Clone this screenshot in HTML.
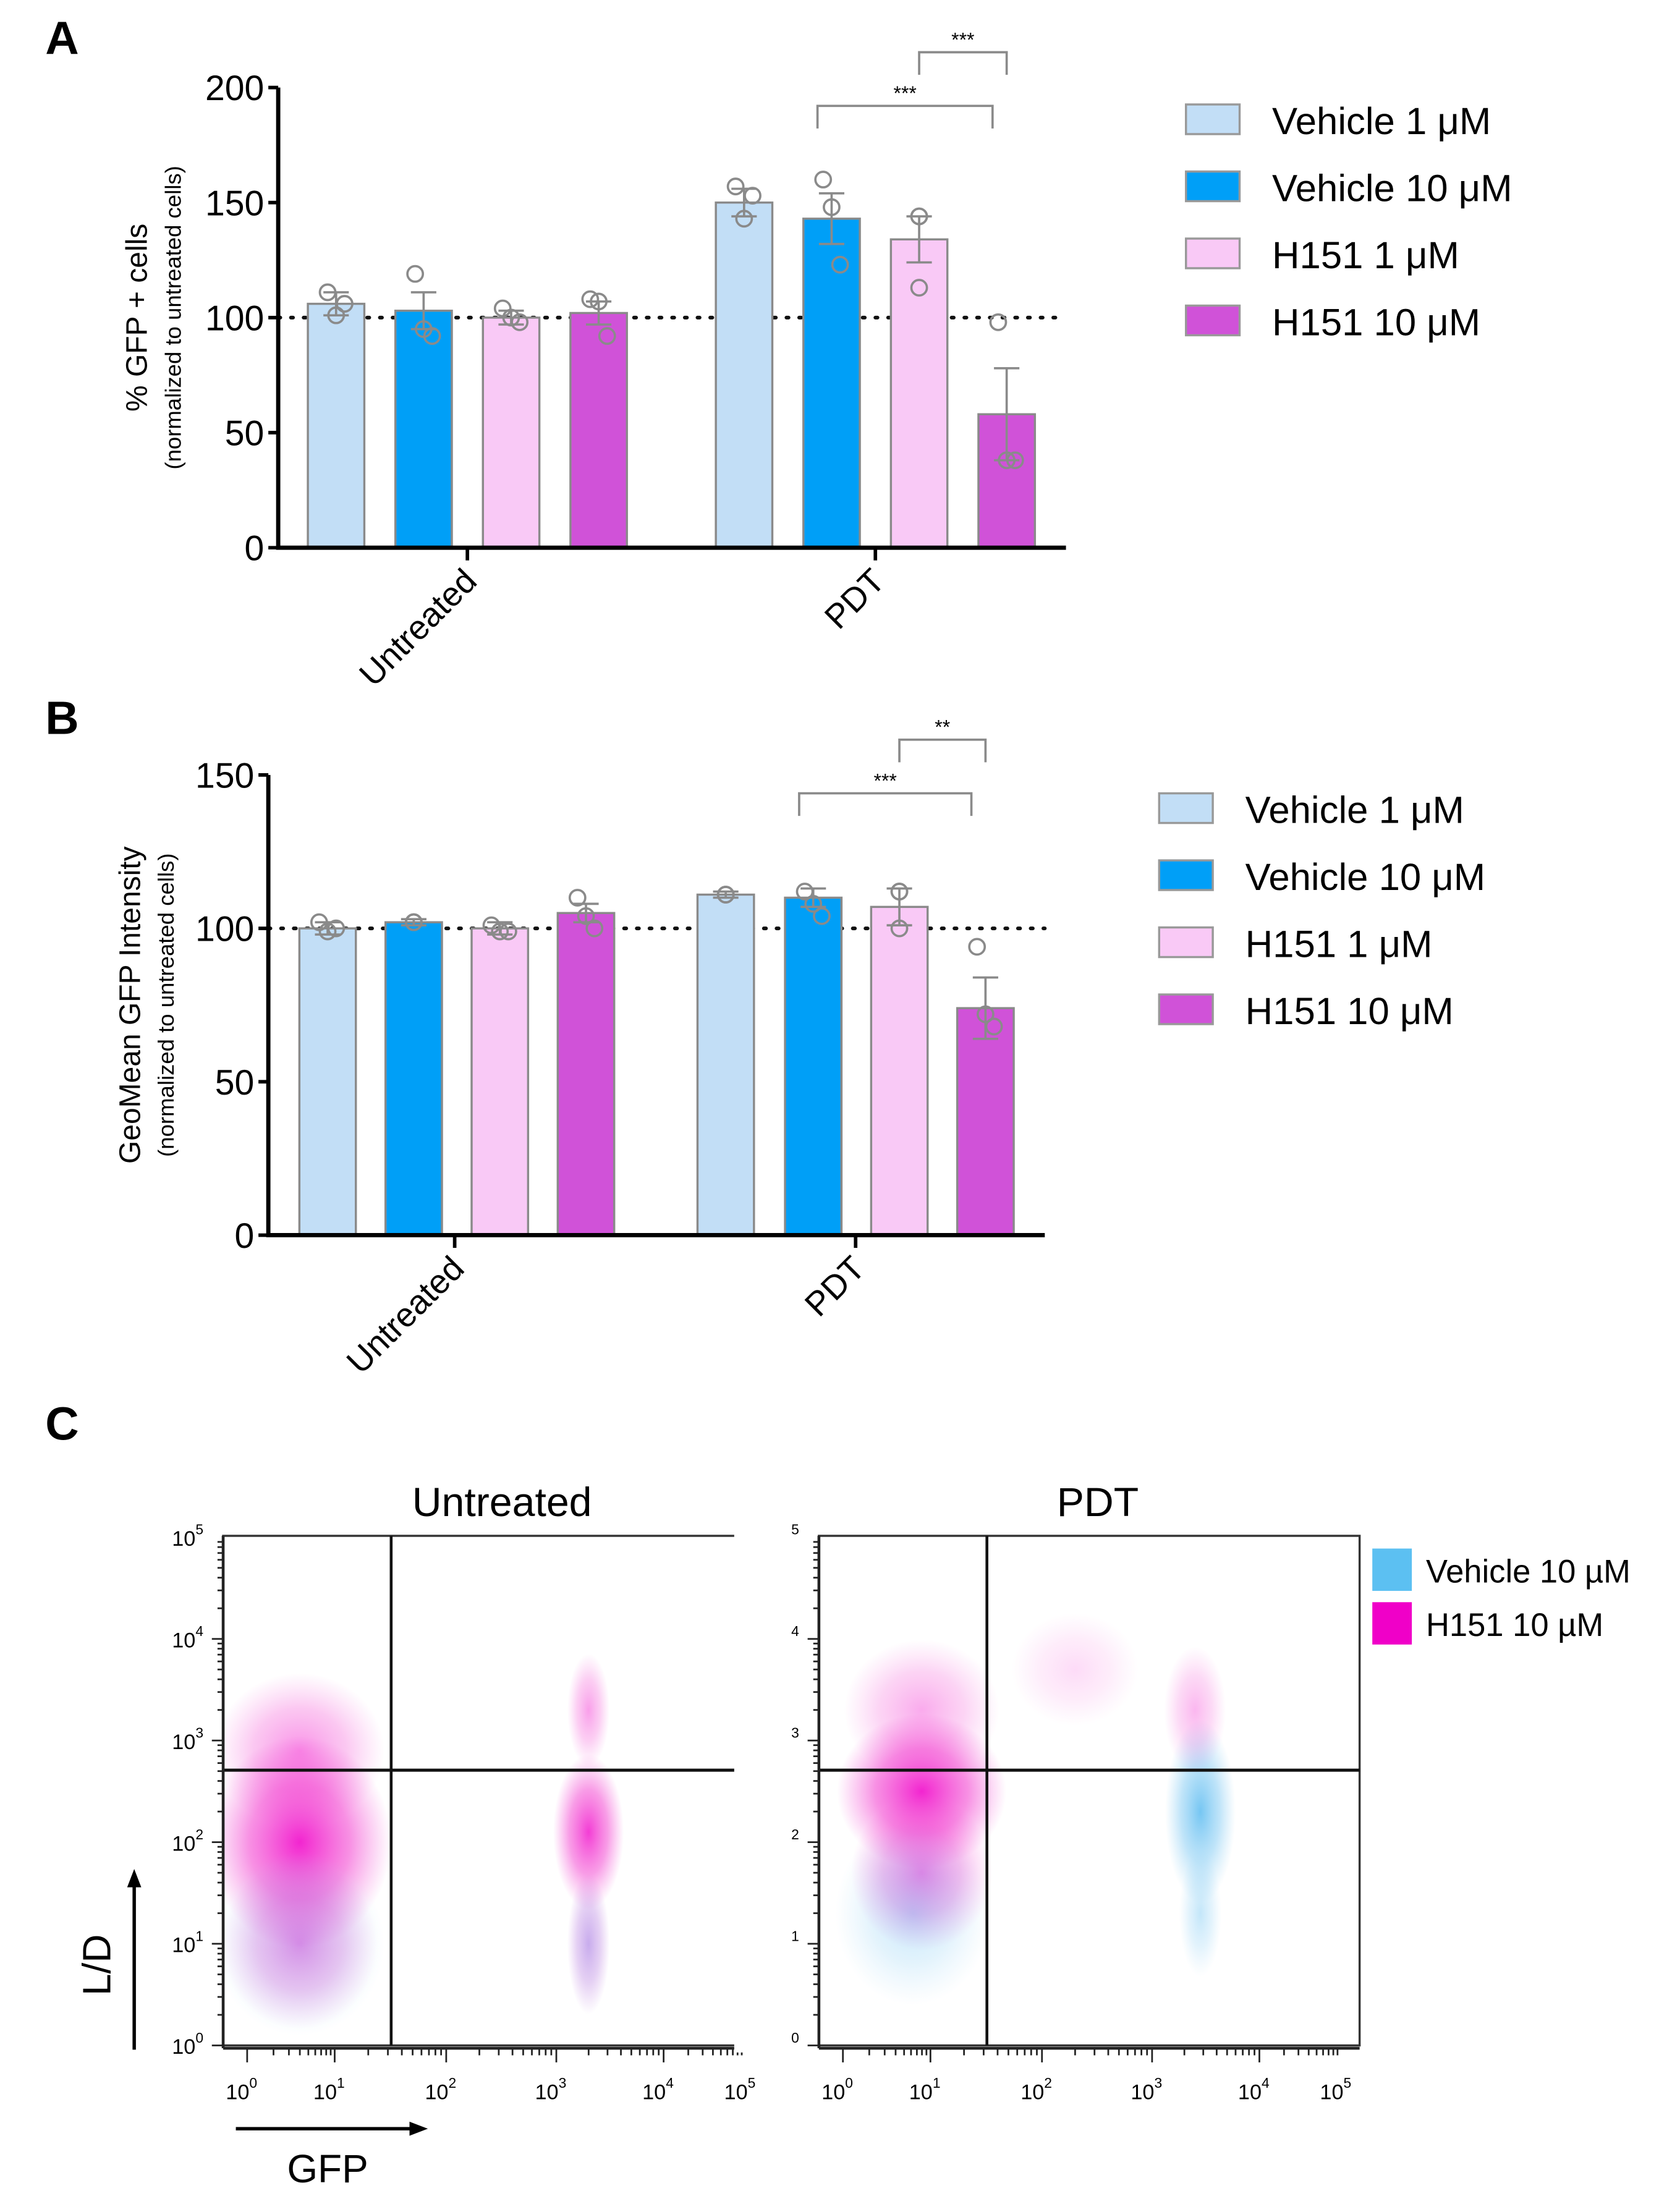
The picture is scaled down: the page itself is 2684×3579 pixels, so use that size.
<!DOCTYPE html>
<html><head><meta charset="utf-8">
<style>
html,body{margin:0;padding:0;background:#fff;}
svg{display:block;font-family:"Liberation Sans",Arial,sans-serif;}
</style></head>
<body>
<svg id="fig" width="2684" height="3579" viewBox="0 0 1175 1567" xmlns="http://www.w3.org/2000/svg">
<defs>
<radialGradient id="gM"><stop offset="0" stop-color="#f000c8" stop-opacity="0.95"/><stop offset="0.55" stop-color="#f020c8" stop-opacity="0.55"/><stop offset="1" stop-color="#f040d0" stop-opacity="0"/></radialGradient>
<radialGradient id="gB"><stop offset="0" stop-color="#40b0ee" stop-opacity="0.9"/><stop offset="0.55" stop-color="#60bcf0" stop-opacity="0.5"/><stop offset="1" stop-color="#80c8f0" stop-opacity="0"/></radialGradient>
</defs>
<g id="gA"></g>
<g id="gBp"></g>
<g id="gC"></g>
</svg>
<script>
const NS="http://www.w3.org/2000/svg";
const groups=["Untreated","PDT"];
const series=["Vehicle 1 \u03bcM","Vehicle 10 \u03bcM","H151 1 \u03bcM","H151 10 \u03bcM"];
const colors=["#c2def6","#009ff7","#f9c9f6","#d052d8"];
// Panel A data
const aMeans=[106,103,100,102,150,143,134,58];
const aErr=[5,8,3,5,6,11,10,20];
const aPoints=[[111,101,106],[119,95,92],[104,100,98],[108,107,92],[157,143,153],[160,148,123],[144,144,113],[98,38,38]];
const aTicks=[0,50,100,150,200];
// Panel B data
const bMeans=[100,102,100,105,111,110,107,74];
const bErr=[2,1,2,3,1,3,6,10];
const bPoints=[[102,99,100],[102,102,102],[101,99,99],[110,104,100],[111,111,111],[112,108,104],[112,112,100],[94,72,68]];
const bTicks=[0,50,100,150];
// Panel C flow clusters: [gfpLog, ldLog, rxPx, ryPx, color, opacity]
const cLeft=[[0.6,2.0,65,75,"M",0.9],[0.6,2.9,60,55,"M",0.45],[0.6,1.0,60,65,"B",0.35],[0.6,1.0,55,60,"M",0.4],[3.3,2.1,25,55,"M",0.8],[3.3,3.3,15,40,"M",0.4],[3.3,1.0,15,50,"M",0.35],[3.3,1.0,15,50,"B",0.3]];
const cRight=[[0.9,2.5,60,55,"M",0.9],[0.9,1.7,50,55,"M",0.55],[0.8,1.3,55,65,"B",0.35],[0.9,3.3,55,50,"M",0.35],[3.45,2.3,25,65,"B",0.8],[3.4,3.3,22,45,"M",0.3],[3.45,1.3,15,45,"B",0.35],[2.3,3.7,45,40,"M",0.15]];
const cTickLabels=["0","1","2","3","4","5"];

function el(tag,attrs,parent,text){const e=document.createElementNS(NS,tag);for(const k in attrs)e.setAttribute(k,attrs[k]);if(text!==undefined)e.textContent=text;parent.appendChild(e);return e;}

function barPanel(g,cfg){
  const y=v=>cfg.y0-(v/cfg.ymax)*(cfg.y0-cfg.ytop);
  const x=i=>cfg.centers[i];
  let l=el("line",{x1:cfg.xa,x2:cfg.xe,y1:y(100),y2:y(100),stroke:"#111","stroke-width":2.6,"stroke-dasharray":"1.5 7.5","stroke-linecap":"round"},g);
  
  cfg.means.forEach((m,i)=>{
    const r=el("rect",{x:x(i)-20,y:y(m),width:40,height:cfg.y0-y(m),fill:colors[i%4],stroke:"#8a8a8a","stroke-width":1.5},g);
    
    
    const e=el("path",{d:`M${x(i)},${y(m-cfg.err[i])}V${y(m+cfg.err[i])}M${x(i)-9},${y(m+cfg.err[i])}h18M${x(i)-9},${y(m-cfg.err[i])}h18`,stroke:"#8a8a8a","stroke-width":1.6,fill:"none"},g);
    
    cfg.pts[i].forEach((p,j)=>{
      const c=el("circle",{cx:x(i)+(j-1)*6*(cfg.pts[i][0]===cfg.pts[i][1]?0:1),cy:y(p),r:5.5,fill:"none",stroke:"#8a8a8a","stroke-width":1.6},g);
      
    });
  });
  const ax=el("path",{d:`M${cfg.xa},${cfg.ytop}V${cfg.y0}H${cfg.xe}`,stroke:"#000","stroke-width":3,fill:"none"},g);
  
  cfg.ticks.forEach(t=>{
    el("line",{x1:cfg.xa-7,x2:cfg.xa,y1:y(t),y2:y(t),stroke:"#000","stroke-width":2.5},g);
    const tl=el("text",{x:cfg.xa-10,y:y(t)+9,"font-size":25,"text-anchor":"end"},g,t);
    
  });
  cfg.gcx.forEach((gx,k)=>{
    el("line",{x1:gx,x2:gx,y1:cfg.y0,y2:cfg.y0+9,stroke:"#000","stroke-width":2.5},g);
    const t=el("text",{transform:`translate(${gx+8},${cfg.y0+25}) rotate(-45)`,"font-size":24,"text-anchor":"end"},g,groups[k]);
    
  });
  const t1=el("text",{transform:`translate(${cfg.lx},${cfg.lcy}) rotate(-90)`,"font-size":21,"text-anchor":"middle"},g,cfg.title);
  
  const t2=el("text",{transform:`translate(${cfg.lx+24},${cfg.lcy}) rotate(-90)`,"font-size":16,"text-anchor":"middle"},g,"(normalized to untreated cells)");
  
  cfg.sig.forEach(s=>{
    const p=el("path",{d:`M${x(s[0])-(s[4]||0)},${s[3]+16}V${s[3]}H${x(s[1])-(s[4]||0)}V${s[3]+16}`,stroke:"#8a8a8a","stroke-width":1.6,fill:"none"},g);
    
    const st=el("text",{x:(x(s[0])+x(s[1]))/2-(s[4]||0),y:s[3]-4,"font-size":14,"text-anchor":"middle"},g,s[2]);
    
  });
  series.forEach((s,i)=>{
    const yy=cfg.legY+i*47.5;
    const r=el("rect",{x:cfg.legX,y:yy-11,width:38,height:21,fill:colors[i],stroke:"#999","stroke-width":1.5},g);
    
    const t=el("text",{x:cfg.legX+61,y:yy+10,"font-size":27},g,s);
    
  });
  const L=el("text",{x:32,y:cfg.letterY,"font-size":33,"font-weight":"bold"},g,cfg.letter);
  
}

barPanel(document.getElementById("gA"),{y0:388,ytop:62,ymax:200,xa:197,xe:755,centers:[238,300,362,424,527,589,651,713],gcx:[331,620],means:aMeans,err:aErr,pts:aPoints,ticks:aTicks,lx:104,lcy:225,title:"% GFP + cells",sig:[[5,7,"***",75,10],[6,7,"***",37,0]],legX:840,legY:85,letter:"A",letterY:38});
barPanel(document.getElementById("gBp"),{y0:875,ytop:549,ymax:150,xa:190,xe:740,centers:[232,293,354,415,514,576,637,698],gcx:[322,606],means:bMeans,err:bErr,pts:bPoints,ticks:bTicks,lx:99,lcy:712,title:"GeoMean GFP Intensity",sig:[[5,7,"***",562,10],[6,7,"**",524,0]],legX:821,legY:573,letter:"B",letterY:520});

// Panel C
const gC=document.getElementById("gC");
const decOff=[17,79,158,236,312,370];
function flow(x0,title,clusters,showYLab){
  const top=1088,bot=1449,w=383;
  const X=v=>{const i=Math.min(4,Math.floor(v));return x0+decOff[i]+(decOff[i+1]-decOff[i])*(v-i);};
  const Y=v=>bot-72*v;
  const g=el("g",{},gC);
  
  el("rect",{x:x0,y:top,width:w,height:bot-top,fill:"#fff"},g);
  clusters.forEach(c=>{
    const e=el("ellipse",{cx:X(c[0]),cy:Y(c[1]),rx:c[2],ry:c[3],fill:c[4]==="M"?"url(#gM)":"url(#gB)",opacity:c[5]},g);
    
  });
  el("rect",{x:x0-60,y:top-5,width:60,height:bot-top+10,fill:"#fff"},g);
  el("rect",{x:x0+w,y:top-5,width:38,height:bot-top+10,fill:"#fff"},g);
  el("rect",{x:x0,y:bot+1,width:w,height:15,fill:"#fff"},g);
  el("rect",{x:x0,y:top,width:w,height:bot-top,fill:"none",stroke:"#333","stroke-width":1.5},g);
  const gv=el("line",{x1:x0+119,x2:x0+119,y1:top,y2:bot,stroke:"#111","stroke-width":2},g);
  
  const gh=el("line",{x1:x0,x2:x0+w,y1:1254,y2:1254,stroke:"#111","stroke-width":2.2},g);
  
  el("line",{x1:x0,x2:x0+w,y1:bot+2,y2:bot+2,stroke:"#222","stroke-width":2},g);
  el("line",{x1:x0,x2:x0,y1:top,y2:bot+2,stroke:"#222","stroke-width":2},g);
  for(let d=0;d<5;d++){for(let k=1;k<10;k++){const lv=d+Math.log10(k);
    el("line",{x1:X(lv),x2:X(lv),y1:bot+2,y2:bot+(k===1?12:7),stroke:"#222","stroke-width":1.2},g);
    el("line",{x1:x0,x2:x0-(k===1?8:4),y1:Y(lv),y2:Y(lv),stroke:"#222","stroke-width":1.2},g);}}
  cTickLabels.forEach((t,i)=>{
    const tx=el("text",{x:X(i)-4,y:bot+38,"font-size":15,"text-anchor":"middle"},g);
    
    el("tspan",{},tx,"10");el("tspan",{dy:-8,"font-size":10},tx,t);
    const ty=el("text",{x:x0-14,y:Y(i)+6,"font-size":15,"text-anchor":"end"},g);
    
    el("tspan",{},ty,showYLab?"10":"");el("tspan",{dy:-8,"font-size":10},ty,t);
  });
  const tt=el("text",{x:x0+w/2+6,y:1074,"font-size":29,"text-anchor":"middle"},g,title);
  
}
flow(158,"Untreated",cLeft,true);
flow(580,"PDT",cRight,false);
const Lc=el("text",{x:32,y:1020,"font-size":33,"font-weight":"bold"},gC,"C");

const ld=el("text",{transform:"translate(78,1392) rotate(-90)","font-size":28,"text-anchor":"middle"},gC,"L/D");

el("path",{d:"M95,1452V1332",stroke:"#000","stroke-width":2.4},gC);
el("path",{d:"M95,1324l-5,13h10z",fill:"#000"},gC);
const gf=el("text",{x:232,y:1546,"font-size":28,"text-anchor":"middle"},gC,"GFP");

el("path",{d:"M167,1508H293",stroke:"#000","stroke-width":2.4},gC);
el("path",{d:"M303,1508l-13,-5v10z",fill:"#000"},gC);
[["Vehicle 10 \u00b5M","#5cc0f2",1097],["H151 10 \u00b5M","#f000c8",1135]].forEach(l=>{
  const r=el("rect",{x:972,y:l[2],width:28,height:30,fill:l[1]},gC);
  
  const t=el("text",{x:1010,y:l[2]+24,"font-size":23},gC,l[0]);
  
});
</script>
</body></html>
